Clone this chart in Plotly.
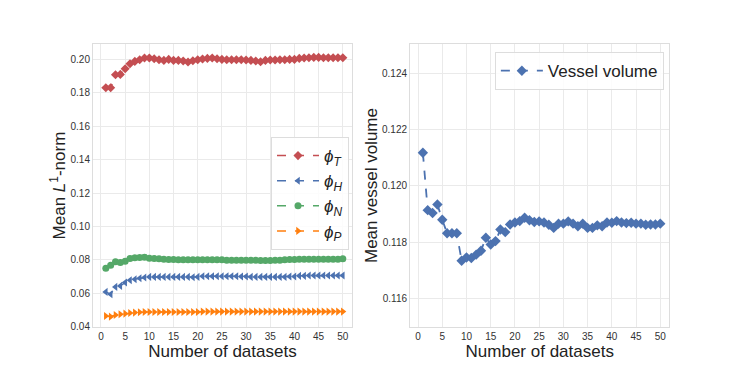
import plotly.graph_objects as go

# x values: number of datasets
n_datasets = list(range(1, 51))

# Mean L1-norm per component
phi_T = [0.1830, 0.1830, 0.1908, 0.1910, 0.1944, 0.1974, 0.1988, 0.1998, 0.2008, 0.2008,
         0.2004, 0.1998, 0.1994, 0.2000, 0.1994, 0.1994, 0.1990, 0.1984, 0.1992, 0.1998,
         0.2002, 0.2006, 0.2008, 0.2004, 0.2000, 0.1998, 0.1998, 0.1998, 0.1998, 0.1996,
         0.1994, 0.1990, 0.1986, 0.1994, 0.1996, 0.1996, 0.1998, 0.1998, 0.2000, 0.2000,
         0.2006, 0.2008, 0.2010, 0.2012, 0.2012, 0.2010, 0.2010, 0.2010, 0.2010, 0.2010]
phi_H = [0.0608, 0.0594, 0.0638, 0.0644, 0.0664, 0.0678, 0.0684, 0.0690, 0.0694, 0.0698,
         0.0698, 0.0698, 0.0698, 0.0698, 0.0698, 0.0698, 0.0698, 0.0698, 0.0696, 0.0698,
         0.0702, 0.0702, 0.0702, 0.0702, 0.0702, 0.0702, 0.0702, 0.0702, 0.0700, 0.0700,
         0.0698, 0.0698, 0.0698, 0.0698, 0.0698, 0.0698, 0.0698, 0.0698, 0.0700, 0.0700,
         0.0704, 0.0704, 0.0706, 0.0706, 0.0706, 0.0706, 0.0706, 0.0706, 0.0706, 0.0706]
phi_N = [0.0750, 0.0768, 0.0788, 0.0784, 0.0792, 0.0808, 0.0812, 0.0814, 0.0816, 0.0810,
         0.0808, 0.0806, 0.0804, 0.0802, 0.0802, 0.0800, 0.0800, 0.0800, 0.0800, 0.0800,
         0.0800, 0.0800, 0.0800, 0.0800, 0.0800, 0.0798, 0.0798, 0.0798, 0.0798, 0.0798,
         0.0798, 0.0798, 0.0796, 0.0796, 0.0796, 0.0798, 0.0798, 0.0800, 0.0802, 0.0802,
         0.0804, 0.0804, 0.0804, 0.0804, 0.0804, 0.0804, 0.0804, 0.0804, 0.0804, 0.0806]
phi_P = [0.0464, 0.0460, 0.0470, 0.0474, 0.0478, 0.0482, 0.0484, 0.0486, 0.0488, 0.0488,
         0.0488, 0.0488, 0.0488, 0.0488, 0.0488, 0.0488, 0.0488, 0.0488, 0.0488, 0.0488,
         0.0490, 0.0490, 0.0490, 0.0490, 0.0490, 0.0490, 0.0490, 0.0490, 0.0490, 0.0490,
         0.0490, 0.0490, 0.0490, 0.0490, 0.0490, 0.0490, 0.0490, 0.0490, 0.0490, 0.0490,
         0.0490, 0.0490, 0.0490, 0.0490, 0.0490, 0.0490, 0.0490, 0.0490, 0.0490, 0.0490]

# Mean vessel volume (right panel)
vessel_volume = [0.12118, 0.11914, 0.11904, 0.11934, 0.11880, 0.11832, 0.11832, 0.11832, 0.11734, 0.11746,
                 0.11744, 0.11756, 0.11770, 0.11816, 0.11792, 0.11804, 0.11845, 0.11836, 0.11863, 0.11870,
                 0.11875, 0.11887, 0.11878, 0.11872, 0.11874, 0.11870, 0.11862, 0.11851, 0.11866, 0.11866,
                 0.11874, 0.11866, 0.11857, 0.11866, 0.11851, 0.11851, 0.11860, 0.11857, 0.11870, 0.11869,
                 0.11875, 0.11870, 0.11868, 0.11869, 0.11866, 0.11866, 0.11862, 0.11863, 0.11863, 0.11866]

series = [
    ("<i>ϕ</i><sub><i>T</i></sub>", phi_T, "#C44E52", "diamond"),
    ("<i>ϕ</i><sub><i>H</i></sub>", phi_H, "#4C72B0", "triangle-left"),
    ("<i>ϕ</i><sub><i>N</i></sub>", phi_N, "#55A868", "circle"),
    ("<i>ϕ</i><sub><i>P</i></sub>", phi_P, "#FF7F0E", "triangle-right"),
]

fig = go.Figure()
for name, vals, color, sym in series:
    fig.add_trace(go.Scatter(
        x=n_datasets, y=vals, name=name, mode="lines+markers",
        line=dict(color=color, dash="dash", width=1.5),
        marker=dict(symbol=sym, size=7, color=color),
        xaxis="x", yaxis="y", legend="legend",
    ))

fig.add_trace(go.Scatter(
    x=n_datasets, y=vessel_volume, name="Vessel volume", mode="lines+markers",
    line=dict(color="#4C72B0", dash="dash", width=1.8),
    marker=dict(symbol="diamond", size=8, color="#4C72B0"),
    xaxis="x2", yaxis="y2", legend="legend2",
))

grid = "#EAEAEA"
axis_common = dict(
    showgrid=True, gridcolor=grid, gridwidth=1, zeroline=False,
    showline=True, linecolor="#DDDDDD", linewidth=1, mirror=True,
    ticks="", tickfont=dict(size=10, color="#333333"), automargin=False,
)

# the page body has an 8px margin, so the plot boxes are placed 8px up/left
fig.update_layout(
    width=747, height=374,
    margin=dict(l=0, r=0, t=0, b=0),
    paper_bgcolor="white", plot_bgcolor="white",
    font=dict(family="Liberation Sans, Arial, sans-serif", color="#222222"),
    xaxis=dict(domain=[0.1138, 0.4605], range=[-1.65, 51.9], dtick=5, tick0=0,
               title=dict(text="Number of datasets", font=dict(size=17), standoff=0),
               anchor="y", **axis_common),
    yaxis=dict(domain=[0.1471, 0.9037], range=[0.0398, 0.2092], dtick=0.02, tick0=0,
               tickformat=".2f",
               title=dict(text="Mean <i>L</i><sup>1</sup>-norm", font=dict(size=17), standoff=0),
               anchor="x", **axis_common),
    xaxis2=dict(domain=[0.5382, 0.8855], range=[-1.65, 51.9], dtick=5, tick0=0,
                title=dict(text="Number of datasets", font=dict(size=17), standoff=0),
                anchor="y2", **axis_common),
    yaxis2=dict(domain=[0.1471, 0.9037], range=[0.11499, 0.12504], dtick=0.002, tick0=0,
                tickformat=".3f",
                title=dict(text="Mean vessel volume", font=dict(size=17), standoff=0),
                anchor="x2", **axis_common),
    legend=dict(x=0.4565, y=0.655, xanchor="right", yanchor="top",
                bgcolor="rgba(255,255,255,0.85)", bordercolor="#DDDDDD", borderwidth=1,
                font=dict(size=17), tracegroupgap=0, itemwidth=42),
    legend2=dict(x=0.878, y=0.882, xanchor="right", yanchor="top",
                 bgcolor="rgba(255,255,255,0.85)", bordercolor="#DDDDDD", borderwidth=1,
                 font=dict(size=17), itemwidth=42),
)

fig.write_html("out.html")
